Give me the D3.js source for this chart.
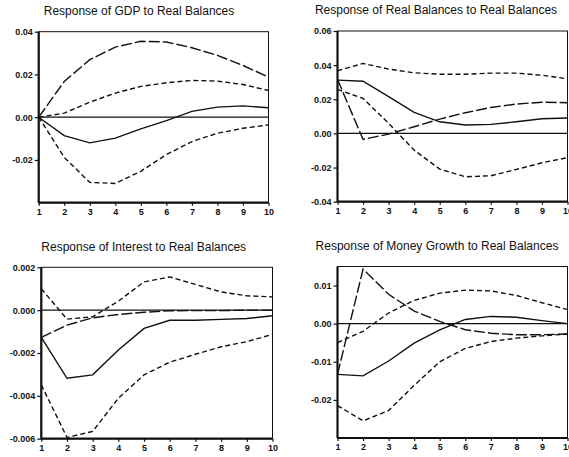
<!DOCTYPE html>
<html>
<head>
<meta charset="utf-8">
<script src="https://cdn.jsdelivr.net/npm/d3@7"></script>
<style>
body { margin: 0; background: #fff; }
svg { display: block; font-family: "Liberation Sans", Arial, sans-serif; }
</style>
</head>
<body>
<svg id="chart" width="569" height="457"></svg>
<script>
// horizons on the x axis
const horizons = [1, 2, 3, 4, 5, 6, 7, 8, 9, 10]

// GDP to Real Balances
const gdpSolid = [0, -0.0086, -0.012, -0.0098, -0.0055, -0.0016, 0.0027, 0.0047, 0.0053, 0.0044]
const gdpLong = [0, 0.0167, 0.0269, 0.0328, 0.0355, 0.0352, 0.0325, 0.0289, 0.0242, 0.0188]
const gdpUpper = [0, 0.0019, 0.007, 0.0113, 0.0144, 0.0161, 0.0172, 0.0169, 0.0153, 0.0125]
const gdpLower = [0, -0.0188, -0.0305, -0.031, -0.0253, -0.0175, -0.0114, -0.0075, -0.0052, -0.0036]

// Real Balances to Real Balances
const rbSolid = [0.0312, 0.0306, 0.0215, 0.0123, 0.0068, 0.0049, 0.0053, 0.0068, 0.0086, 0.009]
const rbLong = [0.0316, -0.0035, -0.0004, 0.0039, 0.0084, 0.0121, 0.0152, 0.0172, 0.0183, 0.018]
const rbUpper = [0.0367, 0.041, 0.0377, 0.0355, 0.0347, 0.0347, 0.0353, 0.0353, 0.0341, 0.032]
const rbLower = [0.0258, 0.0205, 0.0059, -0.0098, -0.0209, -0.0254, -0.0248, -0.0211, -0.0172, -0.0142]

// Interest to Real Balances
const intSolid = [-0.00127, -0.00318, -0.00302, -0.00186, -0.00085, -0.00047, -0.00047, -0.00043, -0.00039, -0.00026]
const intLong = [-0.00127, -0.0007, -0.00036, -0.0002, -0.0001, -0.00003, -0.00002, -0.00002, 0, 0]
const intUpper = [0.001, -0.00042, -0.00031, 0.00042, 0.00132, 0.00155, 0.0012, 0.00085, 0.00067, 0.00062]
const intLower = [-0.00349, -0.00594, -0.00566, -0.00411, -0.00302, -0.00243, -0.00206, -0.00171, -0.00147, -0.00113]

// Money Growth to Real Balances
const mgSolid = [-0.0133, -0.0137, -0.0098, -0.0051, -0.0016, 0.0011, 0.0019, 0.0017, 0.0008, 0]
const mgLong = [-0.0133, 0.0143, 0.0077, 0.0033, 0.0006, -0.0016, -0.0025, -0.0029, -0.0029, -0.0027]
const mgUpper = [-0.005, -0.002, 0.0028, 0.0061, 0.008, 0.0088, 0.0086, 0.0074, 0.0055, 0.0037]
const mgLower = [-0.0215, -0.0255, -0.0228, -0.0162, -0.01, -0.0065, -0.0047, -0.0038, -0.0032, -0.0027]

// y tick values and labels
const gdpTicks = [0.04, 0.02, 0, -0.02]
const gdpTickLabels = ["0.04", "0.02", "0.00", "-0.02"]
const rbTicks = [0.06, 0.04, 0.02, 0, -0.02, -0.04]
const rbTickLabels = ["0.06", "0.04", "0.02", "0.00", "-0.02", "-0.04"]
const intTicks = [0.002, 0, -0.002, -0.004, -0.006]
const intTickLabels = ["0.002", "0.000", "-0.002", "-0.004", "-0.006"]
const mgTicks = [0.01, 0, -0.01, -0.02]
const mgTickLabels = ["0.01", "0.00", "-0.01", "-0.02"]

const panels = [
    {title: "Response of GDP to Real Balances", tx: 139, ty: 15, x0: 38.7, x1: 268.5, y0: 31.7, y1: 202.7,
     domain: [-0.04, 0.04], ticks: gdpTicks, labels: gdpTickLabels,
     solid: gdpSolid, long: gdpLong, upper: gdpUpper, lower: gdpLower},
    {title: "Response of Real Balances to Real Balances", tx: 436, ty: 14, x0: 337.5, x1: 567.5, y0: 31, y1: 201.7,
     domain: [-0.04, 0.06], ticks: rbTicks, labels: rbTickLabels,
     solid: rbSolid, long: rbLong, upper: rbUpper, lower: rbLower},
    {title: "Response of Interest to Real Balances", tx: 143.7, ty: 250.5, x0: 41.3, x1: 272.5, y0: 267.3, y1: 438.7,
     domain: [-0.006, 0.002], ticks: intTicks, labels: intTickLabels,
     solid: intSolid, long: intLong, upper: intUpper, lower: intLower},
    {title: "Response of Money Growth to Real Balances", tx: 437, ty: 250.3, x0: 337.5, x1: 567.5, y0: 266.5, y1: 438,
     domain: [-0.03, 0.015], ticks: mgTicks, labels: mgTickLabels,
     solid: mgSolid, long: mgLong, upper: mgUpper, lower: mgLower}
]

const svg = d3.select("#chart")

panels.forEach(p => {
    const x = d3.scaleLinear().domain([1, 10]).range([p.x0, p.x1])
    const y = d3.scaleLinear().domain(p.domain).range([p.y1, p.y0])
    const g = svg.append("g")

    //title
    g.append("text").attr("x", p.tx).attr("y", p.ty).attr("text-anchor", "middle")
        .attr("font-size", 12).attr("fill", "#111").text(p.title)

    //thin box on top and right
    g.append("rect").attr("x", p.x0).attr("y", p.y0).attr("width", p.x1 - p.x0).attr("height", p.y1 - p.y0)
        .attr("fill", "none").attr("stroke", "#111").attr("stroke-width", 1)

    //zero line
    g.append("line").attr("x1", p.x0).attr("x2", p.x1).attr("y1", y(0)).attr("y2", y(0))
        .attr("stroke", "#111").attr("stroke-width", 1.2)

    //axes
    const yAxis = d3.axisLeft(y).tickValues(p.ticks).tickFormat((d, i) => p.labels[i]).tickSize(4).tickPadding(2)
    const ya = g.append("g").attr("transform", `translate(${p.x0},0)`).call(yAxis)
    const xAxis = d3.axisBottom(x).tickValues(horizons).tickFormat(d3.format("d")).tickSize(3).tickPadding(3)
    const xa = g.append("g").attr("transform", `translate(0,${p.y1})`).call(xAxis)
    ;[ya, xa].forEach(a => {
        a.select(".domain").attr("stroke", "#111").attr("stroke-width", 2.2)
        a.selectAll(".tick line").attr("stroke", "#111").attr("stroke-width", 1.2)
        a.selectAll(".tick text").attr("font-size", 9).attr("font-weight", "bold").attr("fill", "#111")
            .attr("font-family", "'Liberation Sans', Arial, sans-serif")
    })
    ya.select(".domain").attr("d", `M-0,${p.y0}V${p.y1}`)
    xa.select(".domain").attr("d", `M${p.x0},0H${p.x1}`)

    const line = d3.line().x((d, i) => x(horizons[i])).y(d => y(d))

    const series = [
        {data: p.upper, dash: "5,3"},
        {data: p.lower, dash: "5,3"},
        {data: p.long, dash: "11,3"},
        {data: p.solid, dash: null}
    ]
    series.forEach(s => {
        g.append("path").attr("d", line(s.data)).attr("fill", "none")
            .attr("stroke", "#111").attr("stroke-width", 1.4)
            .attr("stroke-dasharray", s.dash)
    })
})
</script>
</body>
</html>
